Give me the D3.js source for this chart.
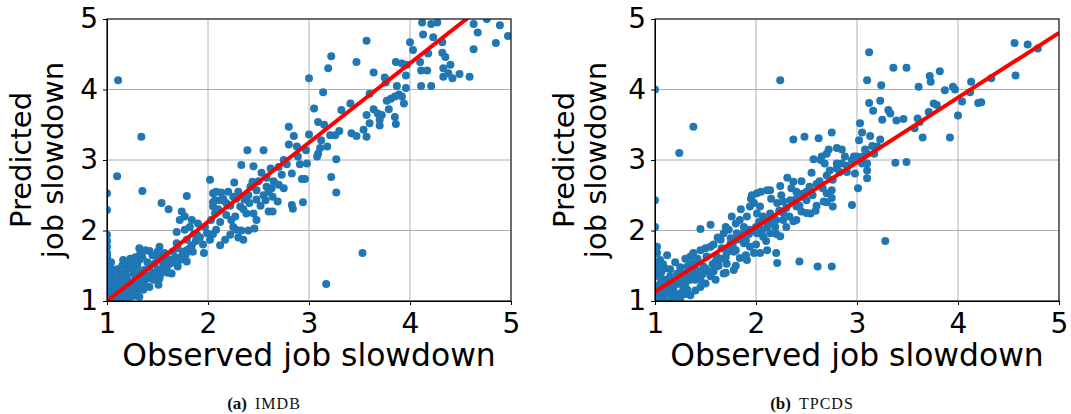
<!DOCTYPE html>
<html>
<head>
<meta charset="utf-8">
<script src="https://cdn.jsdelivr.net/npm/d3@7"></script>
<style>
  body { margin: 0; background: #fff; }
  svg { display: block; }
  .tick text { font-family: "DejaVu Sans", sans-serif; font-size: 28px; fill: #000; }
  .label { font-family: "DejaVu Sans", sans-serif; font-size: 29px; fill: #000; }
  .xlabel { font-size: 31.4px; }
  .caption { font-family: "Liberation Serif", "Times New Roman", serif; fill: #111; }
</style>
</head>
<body>
<svg width="1071" height="414"></svg>
<script>
// axis ticks, same for both panels
const tickValues = [1, 2, 3, 4, 5]

// IMDB: [observed, predicted]
const imdbPoints = [
  [4.12,4.95],[4.21,4.93],[4.27,4.95],[4.13,4.78],[4.23,4.74],[4.32,4.67],[4.63,4.93],[4.67,4.81],
  [4.89,4.91],[4.85,4.66],[4.97,4.76],[4.76,5.0],[4.63,4.57],[4.00,4.67],[4.03,4.56],[3.57,4.69],
  [3.47,4.39],[3.22,4.47],[3.19,4.30],[3.00,4.16],[1.11,4.13],[1.34,3.33],[1.10,2.77],[1.35,2.56],
  [1.00,2.53],[1.00,2.29],[3.86,4.39],[3.92,4.37],[3.97,4.35],[3.96,4.20],[4.10,4.39],[4.18,4.51],
  [4.32,4.52],[4.35,4.46],[4.40,4.35],[4.33,4.30],[4.33,4.18],[4.38,4.23],[4.42,4.16],[4.49,4.22],
  [4.59,4.18],[4.11,4.27],[4.17,4.27],[4.11,4.05],[4.21,4.05],[3.64,4.24],[3.75,4.17],[3.76,4.10],
  [3.87,4.05],[3.96,4.02],[3.89,3.93],[3.92,3.90],[3.85,3.90],[3.81,3.87],[3.77,3.84],[3.79,3.72],
  [3.94,3.80],[3.60,3.94],[3.41,3.80],[3.32,3.71],[3.57,3.64],[3.60,3.52],[3.54,3.43],[3.57,3.33],
  [3.64,3.72],[3.68,3.66],[3.72,3.64],[3.70,3.57],[3.70,3.49],[3.85,3.61],[3.86,3.51],[3.42,3.38],
  [3.47,3.34],[3.30,3.41],[3.21,3.35],[3.26,3.35],[3.14,3.96],[3.05,3.73],[3.09,3.54],[3.15,3.50],
  [3.12,3.28],[3.18,3.19],[3.11,3.17],[3.09,3.09],[3.08,3.05],[3.27,3.01],[3.22,2.76],[3.27,2.54],
  [3.00,3.36],[2.97,3.14],[2.88,3.19],[2.91,2.94],[2.98,2.95],[2.80,3.47],[2.85,3.34],[2.80,3.22],
  [2.78,2.94],[2.89,3.05],[2.83,2.81],[2.73,2.79],[2.75,2.60],[2.69,2.41],[2.58,2.75],[2.53,2.82],
  [2.55,3.14],[2.39,3.14],[2.33,2.93],[2.45,2.91],[2.44,2.69],[2.48,2.57],[2.58,2.62],[2.63,2.60],
  [2.64,2.48],[2.57,2.43],[2.60,2.27],[2.64,2.27],[2.48,2.44],[2.41,2.39],[2.36,2.44],[2.32,2.34],
  [2.38,2.24],[2.45,2.24],[2.48,2.15],[2.46,2.03],[2.35,1.87],[2.28,2.01],[2.33,2.00],[2.23,2.15],
  [2.27,2.20],[2.22,1.94],[2.17,1.87],[2.12,1.79],[2.25,2.48],[2.18,2.39],[2.12,2.43],[2.05,2.53],
  [2.08,2.55],[2.13,2.54],[2.07,2.43],[2.02,2.72],[2.26,2.68],[1.79,2.49],[1.54,2.39],[1.61,2.30],
  [1.74,2.27],[1.72,2.15],[1.77,2.20],[1.84,2.15],[1.69,1.98],[1.77,2.01],[1.79,1.87],[1.84,1.79],
  [1.89,1.94],[1.99,1.96],[1.96,1.68],[2.02,1.87],[2.08,2.01],[2.03,2.15],[2.07,2.24],[2.05,2.34],
  [2.94,2.40],[2.83,2.36],[2.84,2.31],[2.96,2.73],[2.93,2.73],[3.53,1.68],[3.17,1.24],
  [1.32,1.75],[1.42,1.71],[1.52,1.77],[1.42,1.49],[1.32,1.58],[1.49,1.63],[1.59,1.61],[1.62,1.53],
  [1.54,1.44],[1.70,1.49],[1.74,1.63],[1.79,1.56],[1.65,1.70],[1.26,1.39],[1.19,1.35],[1.13,1.39],
  [1.06,1.35],[1.09,1.25],[1.03,1.20],[1.16,1.20],[1.22,1.16],[1.29,1.11],[1.32,1.06],[1.26,1.07],
  [1.13,1.11],[1.06,1.09],[1.01,1.04],[1.03,1.49],[1.00,1.58],[1.00,1.68],[1.00,1.77],[1.00,1.94],
  [1.39,1.35],[1.36,1.25],[1.46,1.30],[1.52,1.32],[1.29,1.25],[1.42,1.20],[1.18,1.27],[1.13,1.04],
  [1.21,1.04],[1.24,1.20],[1.08,1.16],[1.37,1.44],[1.47,1.53],[1.57,1.68],[1.69,1.82],[1.79,1.72],
  [1.59,1.46],[1.64,1.39],[1.51,1.23],[1.36,1.16],[1.00,1.35],[1.00,1.25],[1.00,1.12],[1.02,1.30],
  [1.05,1.42],[1.10,1.45],[1.15,1.50],[1.20,1.46],[1.25,1.55],[1.30,1.50],[1.04,1.02],[1.08,1.05],
  [1.17,1.08],[1.10,1.22],[1.20,1.30],[1.28,1.33],[1.45,1.40],[1.55,1.55],[1.35,1.62],[1.23,1.60],
  [1.05,1.00],[1.08,1.12],[1.12,1.18],[1.15,1.05],[1.18,1.14],[1.22,1.24],[1.25,1.18],[1.28,1.28],
  [1.31,1.20],[1.34,1.30],[1.38,1.22],[1.40,1.32],[1.43,1.36],[1.47,1.40],[1.50,1.45],[1.53,1.38],
  [1.56,1.48],[1.60,1.52],[1.63,1.58],[1.66,1.55],[1.68,1.62],[1.72,1.58],[1.75,1.70],[1.78,1.66],
  [1.82,1.75],[1.85,1.70],[1.28,1.62],[1.33,1.68],[1.38,1.72],[1.45,1.65],[1.50,1.70],[1.55,1.62],
  [1.18,1.40],[1.22,1.52],[1.10,1.30],[1.14,1.26],[1.03,1.10],[1.06,1.22],[1.02,1.40],[1.04,1.55],
  [1.16,1.58],[1.26,1.46],[1.33,1.40],[1.40,1.55],[1.60,1.40],[1.70,1.75],[1.88,1.85],[1.92,1.90],
  [1.95,1.80],[1.97,2.05],[1.86,1.95],[1.82,2.05],[1.90,2.10],[2.05,2.40],[2.10,2.30],[2.15,2.45],
  [2.20,2.55],[2.22,2.35],[2.28,2.45],[2.30,2.55],[2.35,2.30],[2.40,2.50],[2.42,2.62],[2.50,2.70],
  [2.52,2.35],[2.55,2.50],[2.60,2.55],[2.65,2.70],[2.70,2.90],[2.75,3.00],[2.70,2.65],[2.62,2.88],
  [2.12,2.12],[2.18,2.22],[2.25,2.05],[2.40,2.00],[2.30,1.90],[2.05,1.95],[1.15,1.35],[1.25,1.12],
  [1.00,1.05],[1.00,1.45],[1.00,1.85],[1.00,1.63]
]

// TPCDS: [observed, predicted]
const tpcdsPoints = [
  [4.56,4.66],[4.69,4.64],[4.79,4.58],[4.57,4.20],[4.33,4.16],[4.13,4.11],[4.12,3.96],[4.20,3.81],
  [4.23,3.82],[4.04,3.83],[4.00,3.63],[3.95,4.04],[3.97,4.00],[3.87,3.99],[3.92,3.32],[3.82,4.26],
  [3.72,4.19],[3.73,4.11],[3.61,4.04],[3.71,3.68],[3.76,3.80],[3.79,3.78],[3.65,3.32],[3.60,3.59],
  [3.62,3.54],[3.57,3.45],[3.49,4.31],[3.36,4.31],[3.12,4.53],[3.10,4.13],[3.24,4.06],[3.23,3.84],
  [3.12,3.81],[3.16,3.70],[3.31,3.71],[3.33,3.66],[3.25,3.57],[3.39,3.56],[3.46,3.58],[3.38,2.96],
  [3.49,2.97],[3.28,1.85],[3.03,3.52],[3.05,3.39],[3.02,3.28],[3.13,3.34],[3.23,3.29],[3.20,3.19],
  [3.17,3.09],[3.10,3.09],[3.06,3.05],[3.10,2.95],[3.10,2.85],[3.10,2.74],[3.01,2.60],[2.95,2.36],
  [2.97,3.05],[2.88,3.05],[2.80,3.17],[2.75,3.39],[2.70,3.09],[2.62,3.31],[2.48,3.33],[2.37,3.29],
  [2.57,3.01],[2.64,3.00],[2.68,2.95],[2.80,2.95],[2.83,2.83],[2.90,2.83],[2.98,2.81],[2.75,2.57],
  [2.70,2.53],[2.75,2.46],[2.76,2.34],[2.67,2.41],[2.59,2.28],[2.54,2.24],[2.50,2.43],[2.47,2.48],
  [2.40,2.55],[2.37,2.69],[2.31,2.75],[2.24,2.63],[2.14,2.57],[2.11,2.57],[1.96,2.50],[2.01,2.53],
  [1.94,2.34],[2.04,2.34],[2.01,2.24],[2.07,2.20],[2.14,2.24],[2.21,2.39],[2.27,2.41],[2.34,2.43],
  [2.40,2.34],[2.45,2.27],[2.37,2.13],[2.27,2.15],[2.19,2.05],[2.24,1.92],[2.14,1.96],[2.07,1.91],
  [2.01,1.96],[1.94,2.01],[1.88,2.05],[1.84,2.15],[1.76,2.20],[1.73,2.01],[1.68,1.96],[1.65,1.87],
  [1.75,1.82],[1.81,1.87],[1.88,1.82],[1.94,1.77],[1.98,1.68],[1.91,1.58],[1.84,1.61],[1.78,1.70],
  [2.11,1.72],[2.04,1.68],[2.20,1.68],[2.21,1.54],[2.43,1.56],[2.61,1.49],[2.75,1.49],[1.55,2.08],
  [1.45,2.02],[1.55,1.77],[1.45,1.72],[1.35,1.63],[1.38,1.53],[1.32,1.49],[1.48,1.49],[1.61,1.49],
  [1.71,1.53],[1.78,1.44],[1.68,1.39],[1.55,1.35],[1.45,1.30],[1.35,1.30],[1.28,1.20],[1.22,1.39],
  [1.15,1.35],[1.09,1.30],[1.05,1.25],[1.02,1.20],[1.04,1.16],[1.12,1.11],[1.18,1.16],[1.25,1.11],
  [1.15,1.20],[1.09,1.06],[1.03,1.04],[1.05,1.58],[1.02,1.68],[1.12,1.65],[1.02,1.77],[1.10,1.46],
  [1.00,2.05],[1.00,2.43],[1.00,4.00],[1.24,3.10],[1.38,3.47],[2.24,4.13],[1.42,1.39],[1.28,1.39],
  [1.61,1.63],[1.51,1.63],[1.38,1.68],[1.71,1.68],[1.20,1.25],[1.32,1.16],[1.45,1.20],[1.58,1.42],
  [1.66,1.75],[1.81,1.96],[1.91,2.20],[1.98,2.39],[2.03,2.05],[2.11,2.05],[1.88,1.96],[1.75,1.89],
  [1.00,1.35],[1.00,1.15],[1.06,1.40],[1.12,1.28],[1.20,1.08],[1.07,1.10],[1.30,1.25],[1.40,1.45],
  [1.03,1.10],[1.06,1.18],[1.08,1.25],[1.10,1.14],[1.13,1.20],[1.16,1.28],[1.19,1.22],[1.22,1.30],
  [1.25,1.24],[1.28,1.32],[1.31,1.28],[1.34,1.38],[1.37,1.34],[1.40,1.30],[1.43,1.42],[1.47,1.38],
  [1.50,1.46],[1.53,1.42],[1.57,1.52],[1.60,1.56],[1.63,1.50],[1.66,1.60],[1.70,1.62],[1.73,1.75],
  [1.77,1.78],[1.80,1.72],[1.84,1.88],[1.87,1.92],[1.90,1.86],[1.93,1.95],[1.97,2.00],[2.00,2.05],
  [2.03,2.12],[2.06,2.00],[2.09,2.15],[2.13,2.10],[2.16,2.18],[2.20,2.15],[2.23,2.28],[2.27,2.25],
  [2.30,2.32],[2.33,2.20],[2.36,2.40],[2.40,2.45],[2.43,2.35],[2.46,2.52],[2.50,2.55],[2.53,2.62],
  [2.56,2.50],[2.60,2.66],[2.63,2.70],[2.66,2.60],[2.70,2.78],[2.73,2.85],[2.76,2.72],[2.80,2.88],
  [2.85,2.95],[2.90,2.92],[2.95,3.00],[3.00,3.05],[3.05,2.95],[3.08,3.15],[3.15,3.20],[1.02,1.45],
  [1.05,1.35],[1.08,1.52],[1.15,1.45],[1.20,1.55],[1.25,1.48],[1.30,1.60],[1.35,1.52],[1.42,1.60],
  [1.50,1.75],[1.58,1.80],[1.62,1.90],[1.70,2.05],[1.80,2.10],[1.85,2.30],[1.95,2.45],[2.05,2.55],
  [2.15,2.45],[2.25,2.50],[2.35,2.60],[2.45,2.70],[2.55,2.82],[2.65,3.05],[2.72,3.15],[2.85,3.15],
  [1.40,1.15],[1.50,1.25],[1.60,1.30],[1.70,1.40],[1.80,1.50],[1.90,1.65],[2.00,1.80],[2.10,1.85],
  [2.20,1.95],[2.30,2.05],[2.40,2.15],[2.50,2.25],[2.60,2.35],[2.70,2.40],[1.12,1.00],[1.18,1.05],
  [1.25,1.02],[1.30,1.10],[1.35,1.08],[1.05,1.02],[1.02,1.55]
]

// linear fit: [slope, intercept]
const imdbFit = [1.124, -0.124]
const tpcdsFit = [0.918, 0.212]

const panels = [
  { key: "a", name: "IMDB", points: imdbPoints, fit: imdbFit, left: 107, labelShift: -2 },
  { key: "b", name: "TPCDS", points: tpcdsPoints, fit: tpcdsFit, left: 655, labelShift: -7 }
]

const svg = d3.select("svg")
const plotW = 404
const plotTop = 19
const plotBottom = 301

panels.forEach(p => {
  const x = d3.scaleLinear().domain([1, 5]).range([p.left, p.left + plotW])
  const y = d3.scaleLinear().domain([1, 5]).range([plotBottom, plotTop])

  const g = svg.append("g")

  // clip so dots on the edges get cut like matplotlib
  g.append("clipPath")
    .attr("id", "clip-" + p.key)
    .append("rect")
    .attr("x", p.left)
    .attr("y", plotTop)
    .attr("width", plotW)
    .attr("height", plotBottom - plotTop)

  // grid lines
  g.selectAll("line.gx")
    .data(tickValues)
    .enter()
    .append("line")
    .attr("x1", d => x(d)).attr("x2", d => x(d))
    .attr("y1", plotTop).attr("y2", plotBottom)
    .attr("stroke", "#b0b0b0")
    .attr("stroke-width", 1)

  g.selectAll("line.gy")
    .data(tickValues)
    .enter()
    .append("line")
    .attr("x1", p.left).attr("x2", p.left + plotW)
    .attr("y1", d => y(d)).attr("y2", d => y(d))
    .attr("stroke", "#b0b0b0")
    .attr("stroke-width", 1)

  const inner = g.append("g").attr("clip-path", `url(#clip-${p.key})`)

  // scatter dots
  inner.selectAll("circle")
    .data(p.points)
    .enter()
    .append("circle")
    .attr("cx", d => x(d[0]))
    .attr("cy", d => y(d[1]))
    .attr("r", 4)
    .attr("fill", "#1f77b4")

  // red fit line on top
  const fitLine = d3.line()
    .x(d => x(d))
    .y(d => y(p.fit[0] * d + p.fit[1]))

  inner.append("path")
    .datum([1, 5])
    .attr("d", fitLine)
    .attr("stroke", "red")
    .attr("stroke-width", 4)
    .attr("fill", "none")

  // axes
  g.append("g")
    .attr("transform", `translate(0,${plotBottom})`)
    .call(d3.axisBottom(x).tickValues(tickValues).tickFormat(d3.format("d")).tickSize(4).tickPadding(8))
  g.append("g")
    .attr("transform", `translate(${p.left},0)`)
    .call(d3.axisLeft(y).tickValues(tickValues).tickFormat(d3.format("d")).tickSize(4).tickPadding(5))

  g.selectAll(".domain").attr("stroke", "#000")

  // box round the plot
  g.append("rect")
    .attr("x", p.left)
    .attr("y", plotTop)
    .attr("width", plotW)
    .attr("height", plotBottom - plotTop)
    .attr("fill", "none")
    .attr("stroke", "#000")
    .attr("stroke-width", 1)

  // x label
  g.append("text")
    .attr("class", "label xlabel")
    .attr("x", p.left + plotW / 2)
    .attr("y", 366)
    .attr("text-anchor", "middle")
    .text("Observed job slowdown")

  // y label, two lines
  const yl = g.append("text")
    .attr("class", "label")
    .attr("transform", `translate(${p.left + p.labelShift},${(plotTop + plotBottom) / 2}) rotate(-90)`)
    .attr("text-anchor", "middle")
  yl.append("tspan").attr("x", 0).attr("y", -74).text("Predicted")
  yl.append("tspan").attr("x", 0).attr("y", -42).text("job slowdown")

  // caption under the panel, a bit left of the axes centre
  const cap = g.append("text")
    .attr("class", "caption")
    .attr("x", p.left + plotW / 2 - 45)
    .attr("y", 409)
    .attr("text-anchor", "middle")
  cap.append("tspan").attr("font-weight", "bold").attr("font-size", 17).text(`(${p.key})`)
  cap.append("tspan").attr("font-size", 16).attr("letter-spacing", 1).attr("dx", 8).text(p.name)
})
</script>
</body>
</html>
